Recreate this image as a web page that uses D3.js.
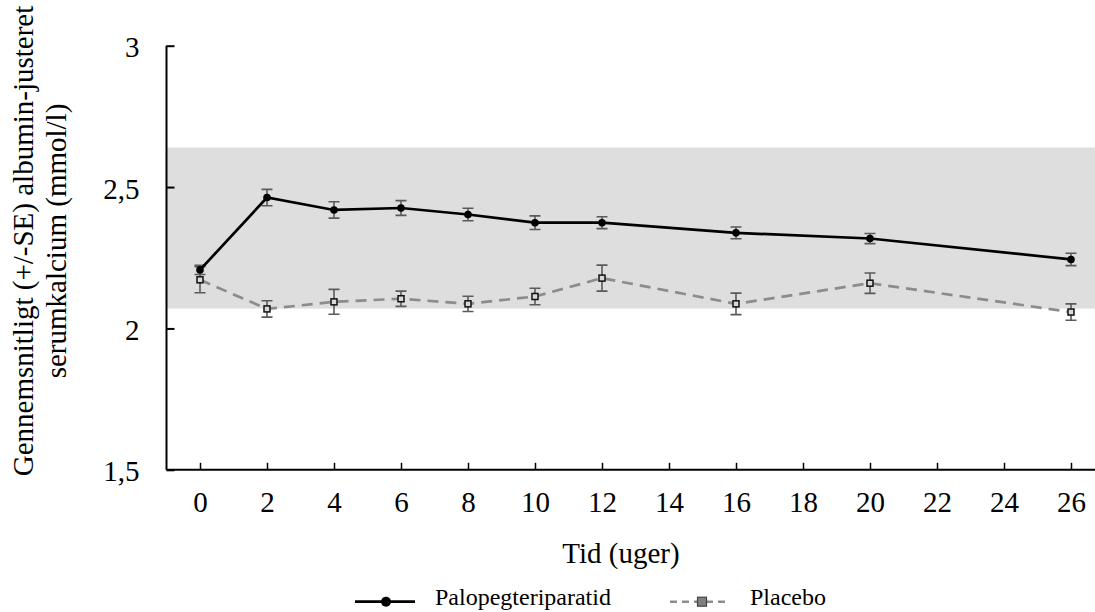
<!DOCTYPE html>
<html><head><meta charset="utf-8">
<script src="https://cdn.jsdelivr.net/npm/d3@7"></script>
<style>
body{margin:0;background:#fff}
svg{display:block}
</style>
</head><body><svg id="c" width="1095" height="612" font-family="Liberation Serif"></svg>
<script>
// ---- data ----
const weeks = [0, 2, 4, 6, 8, 10, 12, 16, 20, 26];
const paloMean = [2.207, 2.463, 2.419, 2.426, 2.403, 2.374, 2.374, 2.338, 2.318, 2.244];
const paloSE   = [0.016, 0.029, 0.029, 0.026, 0.022, 0.024, 0.021, 0.021, 0.018, 0.022];
const placMean = [2.172, 2.069, 2.094, 2.105, 2.087, 2.113, 2.178, 2.087, 2.160, 2.058];
const placSE   = [0.046, 0.029, 0.044, 0.027, 0.027, 0.029, 0.046, 0.038, 0.036, 0.029];
const xTickValues = [0, 2, 4, 6, 8, 10, 12, 14, 16, 18, 20, 22, 24, 26];
const yTickValues = [1.5, 2, 2.5, 3];
const normalRange = [2.07, 2.64];
const seriesNames = ["Palopegteriparatid", "Placebo"];
const xTitle = "Tid (uger)";
const yTitleLines = ["Gennemsnitligt (+/-SE) albumin-justeret", "serumkalcium (mmol/l)"];

// ---- layout ----
const FONT = "Liberation Serif";
const svg = d3.select("#c");
const X0 = 166.5, XR = 1095, YB = 469.8, YT = 45.7;
const x = d3.scaleLinear().domain([0, 26]).range([200, 1071]);
const y = d3.scaleLinear().domain([1.5, 3]).range([YB, YT]);
const fmt = d => String(d).replace(".", ",");

// reference band
svg.append("rect")
  .attr("x", X0).attr("width", XR - X0)
  .attr("y", y(normalRange[1])).attr("height", y(normalRange[0]) - y(normalRange[1]))
  .attr("fill", "#dedede");

// axes
const gx = svg.append("g").attr("transform", `translate(0,${YB})`)
  .call(d3.axisBottom(x).tickValues(xTickValues).tickFormat(d => d)
        .tickSizeInner(-7).tickSizeOuter(0).tickPadding(22));
gx.attr("font-family", FONT).attr("font-size", 29);
gx.select(".domain").attr("d", `M${X0},0H${XR}`).attr("stroke", "#000").attr("stroke-width", 2);
gx.selectAll(".tick line").attr("stroke", "#000").attr("stroke-width", 1.5);
gx.selectAll(".tick text").attr("fill", "#000");

const gy = svg.append("g").attr("transform", `translate(${X0},0)`)
  .call(d3.axisLeft(y).tickValues(yTickValues).tickFormat(fmt)
        .tickSizeInner(-8).tickSizeOuter(0).tickPadding(27));
gy.attr("font-family", FONT).attr("font-size", 29);
gy.select(".domain").attr("d", `M0,${YT}V${YB}`).attr("stroke", "#000").attr("stroke-width", 2);
gy.selectAll(".tick line").attr("stroke", "#000").attr("stroke-width", 2);
gy.selectAll(".tick text").attr("fill", "#000").attr("dy", "0.38em");

// series drawing helpers
function errorBars(means, ses) {
  const g = svg.append("g").attr("stroke", "#5a5a5a").attr("stroke-width", 1.6).attr("fill", "none");
  weeks.forEach((w, i) => {
    const cx = x(w), y1 = y(means[i] + ses[i]), y2 = y(means[i] - ses[i]);
    g.append("path").attr("d", `M${cx},${y1}V${y2}M${cx-5.5},${y1}H${cx+5.5}M${cx-5.5},${y2}H${cx+5.5}`);
  });
}
const line = means => d3.line().x((d, i) => x(weeks[i])).y(d => y(d))(means);

// placebo
errorBars(placMean, placSE);
svg.append("path").attr("d", line(placMean)).attr("fill", "none")
  .attr("stroke", "#8c8c8c").attr("stroke-width", 2.7).attr("stroke-dasharray", "11,7");
svg.append("g").selectAll("rect").data(placMean).join("rect")
  .attr("x", (d, i) => x(weeks[i]) - 3).attr("y", d => y(d) - 3)
  .attr("width", 6).attr("height", 6)
  .attr("fill", "#d9d9d9").attr("stroke", "#111").attr("stroke-width", 1.5);

// palopegteriparatid
errorBars(paloMean, paloSE);
svg.append("path").attr("d", line(paloMean)).attr("fill", "none")
  .attr("stroke", "#000").attr("stroke-width", 2.7);
svg.append("g").selectAll("circle").data(paloMean).join("circle")
  .attr("cx", (d, i) => x(weeks[i])).attr("cy", d => y(d)).attr("r", 3.8).attr("fill", "#000");

// titles
svg.append("text").attr("x", 621).attr("y", 563).attr("text-anchor", "middle")
  .attr("font-family", FONT).attr("font-size", 29).text(xTitle);
const yt = svg.append("text").attr("transform", "translate(0,241) rotate(-90)")
  .attr("text-anchor", "middle").attr("font-family", FONT).attr("font-size", 29);
yt.append("tspan").attr("x", 0).attr("y", 33).text(yTitleLines[0]);
yt.append("tspan").attr("x", 0).attr("y", 66).text(yTitleLines[1]);

// legend
const LY = 601.7;
const lg = svg.append("g").attr("font-family", FONT).attr("font-size", 24);
lg.append("line").attr("x1", 355).attr("x2", 415).attr("y1", LY).attr("y2", LY)
  .attr("stroke", "#000").attr("stroke-width", 2.7);
lg.append("circle").attr("cx", 386).attr("cy", LY).attr("r", 5).attr("fill", "#000");
lg.append("text").attr("x", 435).attr("y", 605).text(seriesNames[0]);
lg.append("line").attr("x1", 670).attr("x2", 730).attr("y1", LY).attr("y2", LY)
  .attr("stroke", "#8c8c8c").attr("stroke-width", 2.6).attr("stroke-dasharray", "7,5");
lg.append("rect").attr("x", 697.5).attr("y", LY - 4.5).attr("width", 9).attr("height", 9)
  .attr("fill", "#808080").attr("stroke", "#444").attr("stroke-width", 1.2);
lg.append("text").attr("x", 750).attr("y", 605).text(seriesNames[1]);
</script>
</body></html>
